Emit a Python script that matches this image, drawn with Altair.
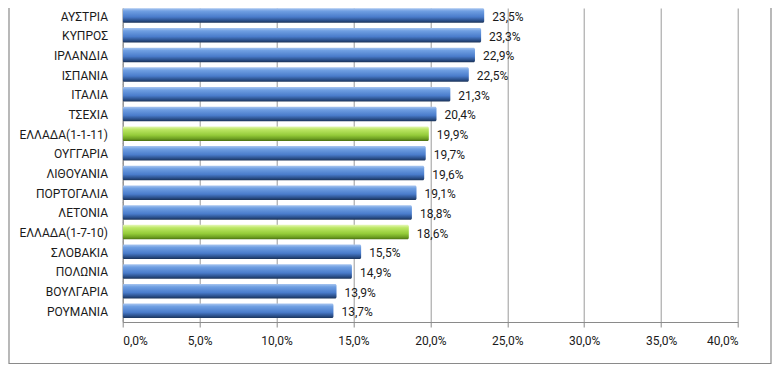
import altair as alt
import pandas as pd

countries = ["ΣΛΟΒΕΝΙΑ", "ΑΥΣΤΡΙΑ", "ΚΥΠΡΟΣ", "ΙΡΛΑΝΔΙΑ", "ΙΣΠΑΝΙΑ", "ΙΤΑΛΙΑ", "ΤΣΕΧΙΑ",
             "ΕΛΛΑΔΑ(1-1-11)", "ΟΥΓΓΑΡΙΑ", "ΛΙΘΟΥΑΝΙΑ", "ΠΟΡΤΟΓΑΛΙΑ", "ΛΕΤΟΝΙΑ",
             "ΕΛΛΑΔΑ(1-7-10)", "ΣΛΟΒΑΚΙΑ", "ΠΟΛΩΝΙΑ", "ΒΟΥΛΓΑΡΙΑ", "ΡΟΥΜΑΝΙΑ"]
values = [23.6, 23.5, 23.3, 22.9, 22.5, 21.3, 20.4, 19.9, 19.7, 19.6, 19.1, 18.8, 18.6,
          15.5, 14.9, 13.9, 13.7]
groups = ["other"] * 7 + ["greece"] + ["other"] * 4 + ["greece"] + ["other"] * 4
x_ticks = [0, 5, 10, 15, 20, 25, 30, 35, 40]

df = pd.DataFrame({"country": countries, "value": values, "group": groups,
                   "idx": list(range(len(countries)))})

FONT = "Roboto"
FS = 12
TXT = "#1a1a1a"

blue = alt.LinearGradient(
    gradient="linear", x1=0, y1=0, x2=0, y2=1,
    stops=[alt.GradientStop(color="#a9c6f0", offset=0),
           alt.GradientStop(color="#6f9fe2", offset=0.2),
           alt.GradientStop(color="#4a7ccb", offset=0.6),
           alt.GradientStop(color="#2a4f8a", offset=0.85),
           alt.GradientStop(color="#1b3358", offset=1)])
green = alt.LinearGradient(
    gradient="linear", x1=0, y1=0, x2=0, y2=1,
    stops=[alt.GradientStop(color="#e6f8b8", offset=0),
           alt.GradientStop(color="#bde765", offset=0.2),
           alt.GradientStop(color="#95cc3a", offset=0.6),
           alt.GradientStop(color="#6d9f22", offset=0.85),
           alt.GradientStop(color="#4b7012", offset=1)])

xscale = alt.Scale(domain=[0, 40], nice=False, zero=True)
yscale = alt.Scale(domain=[0.619, 16.566], reverse=True, nice=False, zero=False)

base = alt.Chart(df).transform_calculate(
    y0="datum.idx - 0.368", y1="datum.idx + 0.368", b="datum.idx + 0.5", zero="0",
    lbl="replace(format(datum.value, '.1f'), '.', ',') + '%'")

frame = alt.Chart(alt.Data(values=[{}])).mark_rect(
    fillOpacity=0, stroke="#8a8a8a", strokeWidth=1.2
).encode(x=alt.value(-113.7), x2=alt.value(648.3), y=alt.value(-30), y2=alt.value(355.5))

axes = base.mark_rect(opacity=0).encode(
    x=alt.X("value:Q", scale=xscale, title=None,
            axis=alt.Axis(values=x_ticks, grid=True, gridColor="#9a9a9a", gridWidth=1,
                          domainColor="#8a8a8a", tickColor="#8a8a8a", tickSize=5,
                          labelExpr="replace(format(datum.value, '.1f'), '.', ',') + '%'",
                          labelFont=FONT, labelFontSize=FS, labelColor=TXT,
                          labelPadding=8, labelOverlap=False)),
    x2="zero:Q",
    y=alt.Y("y0:Q", scale=yscale, title=None,
            axis=alt.Axis(labels=False, ticks=False, grid=False, domainColor="#8a8a8a")),
    y2="y1:Q")

ticks = base.mark_rule(color="#8a8a8a", clip=True).encode(
    y=alt.Y("b:Q", scale=yscale), x=alt.value(-4), x2=alt.value(0))

cat_labels = base.mark_text(align="right", baseline="middle", dy=1, font=FONT,
                            fontSize=FS, color=TXT, clip=False).transform_filter(
    "datum.idx >= 1").encode(
    x=alt.value(-14.7), y=alt.Y("idx:Q", scale=yscale), text="country:N")

bars_blue = base.transform_filter("datum.group == 'other'").mark_rect(
    color=blue, clip=True, cornerRadius=1.5).encode(
    x=alt.X("value:Q", scale=xscale), x2="zero:Q",
    y=alt.Y("y0:Q", scale=yscale), y2="y1:Q")
bars_green = base.transform_filter("datum.group == 'greece'").mark_rect(
    color=green, clip=True, cornerRadius=1.5).encode(
    x=alt.X("value:Q", scale=xscale), x2="zero:Q",
    y=alt.Y("y0:Q", scale=yscale), y2="y1:Q")

labels = base.mark_text(align="left", baseline="middle", dx=8, dy=1.5, font=FONT,
                        fontSize=FS, color=TXT, clip=True).encode(
    x=alt.X("value:Q", scale=xscale), y=alt.Y("idx:Q", scale=yscale), text="lbl:N")

chart = alt.layer(frame, axes, ticks, cat_labels, bars_blue, bars_green, labels).properties(
    width=615.3, height=314,
    autosize=alt.AutoSizeParams(type="none"),
    padding={"left": 114.7, "top": 0, "right": 34, "bottom": 43},
).configure_view(strokeWidth=0)

chart.save("out.html", embed_options={"renderer": "svg", "actions": False})
